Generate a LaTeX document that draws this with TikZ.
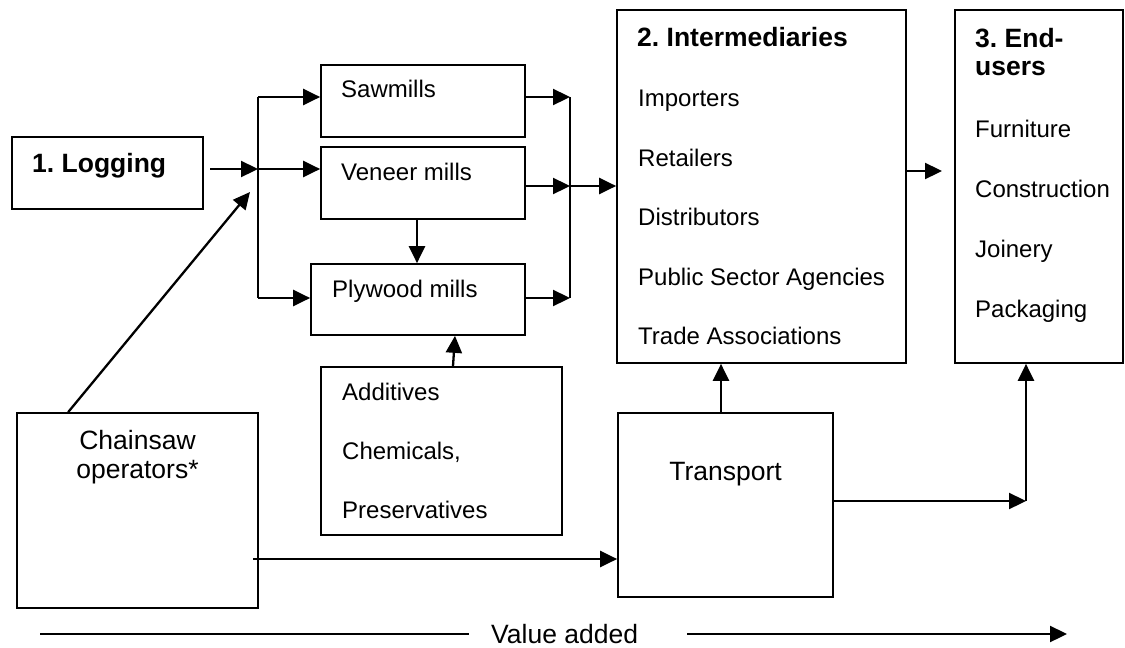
\documentclass[tikz,border=0pt]{standalone}
\usepackage{fontspec}
\setmainfont{Liberation Sans}
\usetikzlibrary{arrows.meta}
\frenchspacing
\begin{document}
\begin{tikzpicture}[x=1pt,y=-1pt,
  box/.style={draw,line width=1.7pt,inner sep=0pt,rectangle},
  conn/.style={line width=2.3pt},
  arr/.style={conn,-{Triangle[length=17pt,width=16pt]}},
  itemtxt/.style={inner sep=0pt,anchor=base west,font=\fontsize{24}{28}\selectfont},
  bigtxt/.style={inner sep=0pt,anchor=base,font=\fontsize{26.5}{30}\selectfont},
  titletxt/.style={inner sep=0pt,anchor=base west,font=\fontsize{26.5}{30}\selectfont\bfseries}]
\useasboundingbox[fill=white] (0,0) rectangle (1125,648);

% boxes
\node[box,minimum width=191pt,minimum height=72pt] (logging) at (107.5,173) {};
\node[box,minimum width=204pt,minimum height=72pt] (saw) at (423,101) {};
\node[box,minimum width=204pt,minimum height=72pt] (ven) at (423,183) {};
\node[box,minimum width=214pt,minimum height=71pt] (ply) at (418,299.5) {};
\node[box,minimum width=241pt,minimum height=168pt] (add) at (441.5,451) {};
\node[box,minimum width=289pt,minimum height=353pt] (inter) at (761.5,186.5) {};
\node[box,minimum width=168pt,minimum height=353pt] (end) at (1039,186.5) {};
\node[box,minimum width=241pt,minimum height=195pt] (chain) at (137.5,510.5) {};
\node[box,minimum width=215pt,minimum height=184pt] (trans) at (725.5,505) {};

% texts
\node[titletxt] (tlog) at (32,172) {1. Logging};
\node[itemtxt] (tsaw) at (341,97) {Sawmills};
\node[itemtxt] (tven) at (341,180) {Veneer mills};
\node[itemtxt] (tply) at (332,297) {Plywood mills};
\node[itemtxt] (tadd1) at (342,400) {Additives};
\node[itemtxt] (tadd2) at (342,459) {Chemicals,};
\node[itemtxt] (tadd3) at (342,518) {Preservatives};
\node[titletxt] (tint) at (637,46) {2. Intermediaries};
\node[itemtxt] (ti1) at (638,106) {Importers};
\node[itemtxt] (ti2) at (638,166) {Retailers};
\node[itemtxt] (ti3) at (638,225) {Distributors};
\node[itemtxt] (ti4) at (638,285) {Public Sector Agencies};
\node[itemtxt] (ti5) at (638,344) {Trade Associations};
\node[titletxt] (tend1) at (975,47) {3. End-};
\node[titletxt] (tend2) at (975,75) {users};
\node[itemtxt] (te1) at (975,137) {Furniture};
\node[itemtxt] (te2) at (975,197) {Construction};
\node[itemtxt] (te3) at (975,257) {Joinery};
\node[itemtxt] (te4) at (975,317) {Packaging};
\node[bigtxt] (tch1) at (137.5,449) {Chainsaw};
\node[bigtxt] (tch2) at (137.5,478) {operators*};
\node[bigtxt] (ttr) at (725.5,480) {Transport};
\node[bigtxt,anchor=base west] (tva) at (491,643) {Value added};

% junction coordinates
\coordinate (lgo) at (210,169);
\coordinate (j1) at (258,169);
\coordinate (jtop) at (258,97);
\coordinate (jbot) at (258,298);
\coordinate (jd) at (250,192);
\coordinate (k1) at (570,97);
\coordinate (k2) at (570,186);
\coordinate (k3) at (570,298);
\coordinate (m1) at (942,171);
\coordinate (n1) at (1026,501);
\coordinate (c1) at (253,559);
\coordinate (v0) at (40,634);
\coordinate (v1) at (469,634);
\coordinate (v2) at (687,634);
\coordinate (v3) at (1067,634);

% connectors
\draw[arr] (lgo) -- (j1);
\draw[conn] (jtop) -- (jbot);
\draw[arr] (jtop) -- (saw.west |- jtop);
\draw[arr] (j1) -- (ven.west |- j1);
\draw[arr] (jbot) -- (ply.west |- jbot);
\draw[arr] ([xshift=52pt]chain.north west) -- (jd);
\draw[arr] ([xshift=-6pt]ven.south) -- ([xshift=-6pt]ven.south |- ply.north);
\draw[arr] ([xshift=11.5pt]add.north) -- ([xshift=37pt]ply.south);
\draw[arr] (saw.east |- k1) -- (k1);
\draw[arr] (ven.east |- k2) -- (k2);
\draw[arr] (ply.east |- k3) -- (k3);
\draw[conn] (k1) -- (k3);
\draw[arr] (k2) -- (inter.west |- k2);
\draw[arr] (inter.east |- m1) -- (m1);
\draw[arr] ([xshift=-4.5pt]trans.north) -- ([xshift=-4.5pt]trans.north |- inter.south);
\draw[arr] (trans.east |- n1) -- (n1);
\draw[arr] (n1) -- (n1 |- end.south);
\draw[arr] (c1) -- (trans.west |- c1);
\draw[conn] (v0) -- (v1);
\draw[arr] (v2) -- (v3);
\end{tikzpicture}
\end{document}
